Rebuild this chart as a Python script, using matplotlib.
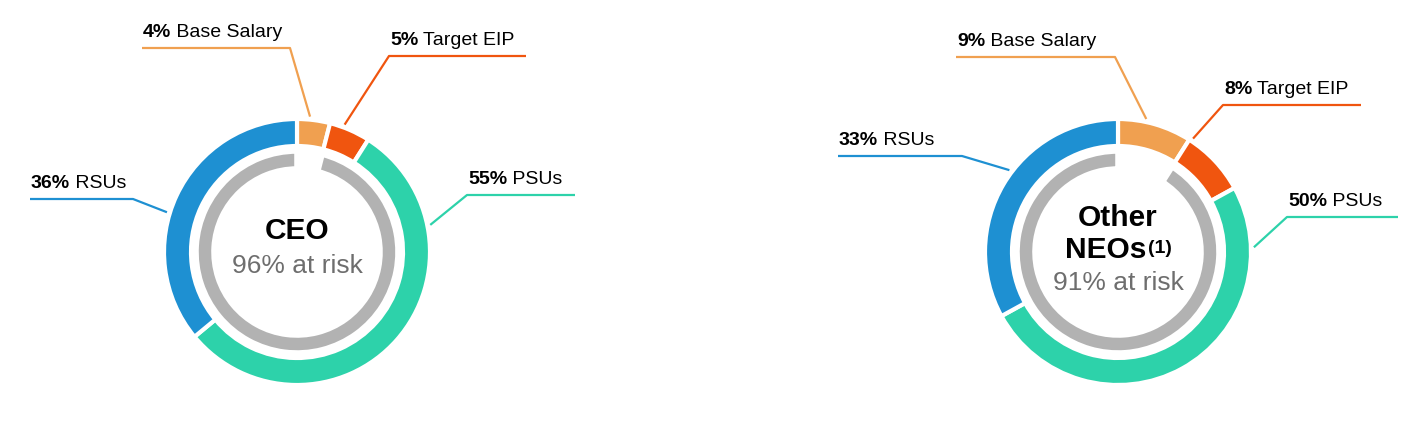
import numpy as np
import matplotlib.pyplot as plt

plt.rcParams['font.family'] = ['Liberation Sans', 'DejaVu Sans']

W, H = 1423, 430

# data
segments = ['Base Salary', 'Target EIP', 'PSUs', 'RSUs']
ceo_pct = [4, 5, 55, 36]
neo_pct = [9, 8, 50, 33]
ceo_at_risk = 96
neo_at_risk = 91

colors = ['#F0A050', '#F0550F', '#2DD2AA', '#1E90D2']
gray = '#B2B2B2'

# layout: center, and per label (anchor angle clockwise from top, elbow x, elbow y, far x)
charts = [
    dict(pct=ceo_pct, risk=ceo_at_risk, cx=297, cy=252,
         labels=[(5.5, 290, 48, 142), (20.5, 389, 56, 526),
                 (78.5, 467, 195, 575), (287, 133, 199, 30)]),
    dict(pct=neo_pct, risk=neo_at_risk, cx=1118, cy=252,
         labels=[(12, 1115, 57, 956), (33.5, 1223, 105, 1361),
                 (88, 1287, 217, 1398), (307, 962, 156, 838)]),
]

R_OUT, RING_W = 133, 27
R_GRAY, GRAY_W = 101, 18

fig = plt.figure(figsize=(W / 100, H / 100), dpi=100)
ax = fig.add_axes([0, 0, 1, 1])

for ch in charts:
    cx, cy = ch['cx'], ch['cy']
    # outer ring, clockwise from 12 o'clock (y axis is flipped later)
    ax.pie(ch['pct'], colors=colors, radius=R_OUT, center=(cx, cy),
           startangle=-90, counterclock=True,
           wedgeprops=dict(width=RING_W, edgecolor='white', linewidth=3))
    # inner gray ring = at-risk share
    ax.pie([100 - ch['risk'], ch['risk']], colors=['none', gray],
           radius=R_GRAY, center=(cx, cy), startangle=-90, counterclock=True,
           wedgeprops=dict(width=GRAY_W, edgecolor='white', linewidth=4))

    for i, (ang, ex, ey, fx) in enumerate(ch['labels']):
        a = np.radians(ang)
        rx = cx + (R_OUT + 3) * np.sin(a)
        ry = cy - (R_OUT + 3) * np.cos(a)
        ax.plot([fx, ex, rx], [ey, ey, ry], color=colors[i], lw=1.6,
                solid_capstyle='butt')
        tx = min(fx, ex) + 1
        t = ax.text(tx, ey - 7, f'{ch["pct"][i]}%', fontsize=14,
                    fontweight='bold', ha='left', va='bottom', color='black')
        ax.annotate(' ' + segments[i], xy=(1, 0), xycoords=t, fontsize=14,
                    ha='left', va='bottom', color='black')

# center titles
c1, c2 = charts
ax.text(c1['cx'], 239, 'CEO', fontsize=21.5, fontweight='bold',
        ha='center', va='baseline')
ax.text(c1['cx'], 273, f'{c1["risk"]}% at risk', fontsize=19,
        color='#6E6E6E', ha='center', va='baseline')

ax.text(c2['cx'], 226.5, 'Other', fontsize=21.5, fontweight='bold',
        ha='center', va='baseline')
t = ax.text(c2['cx'] - 12, 258, 'NEOs', fontsize=21.5, fontweight='bold',
            ha='center', va='baseline')
ax.annotate('(1)', xy=(1, 1), xycoords=t, xytext=(1, -3),
            textcoords='offset points', fontsize=14, fontweight='bold',
            ha='left', va='top')
ax.text(c2['cx'], 290, f'{c2["risk"]}% at risk', fontsize=19,
        color='#6E6E6E', ha='center', va='baseline')

ax.set_xlim(0, W)
ax.set_ylim(H, 0)
ax.set_aspect('equal')
ax.axis('off')

fig.savefig('out.png', dpi=100, facecolor='white')
